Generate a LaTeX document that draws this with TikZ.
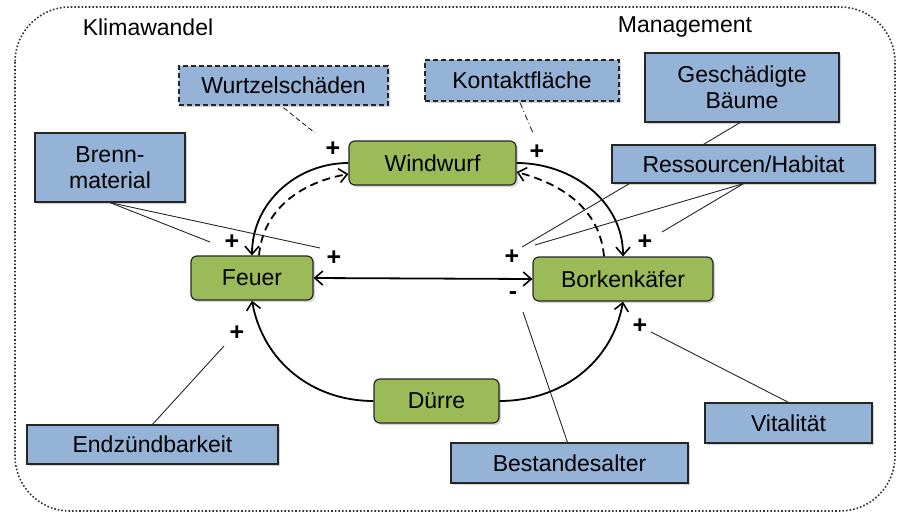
\documentclass[tikz,border=0pt]{standalone}
\usepackage{fontspec}
\setmainfont{Liberation Sans}
\usepackage{tikz}
\usetikzlibrary{arrows.meta,shadows,calc}

\definecolor{boxblue}{RGB}{149,179,215}
\definecolor{boxgreen}{RGB}{155,187,89}

\tikzset{
  faktor/.style={draw=black!85, line width=1.2pt, fill=boxblue, align=center,
    inner sep=0pt, drop shadow={opacity=0.35, shadow xshift=2pt, shadow yshift=-2pt}},
  faktorgestr/.style={faktor, dashed, dash pattern=on 5pt off 3pt, line width=1.4pt},
  prozess/.style={draw=black!85, line width=1.2pt, fill=boxgreen, rounded corners=6pt,
    inner sep=0pt, drop shadow={opacity=0.35, shadow xshift=2pt, shadow yshift=-2pt}},
  spitze/.tip={Straight Barb[length=8pt,width=14pt,line width=1.6pt]},
  wirkung/.style={line width=1.8pt, -spitze},
  wirkungs/.style={wirkung, dash pattern=on 8pt off 5pt},
  einfluss/.style={line width=0.9pt, black!85},
  vz/.style={font=\fontsize{25}{25}\selectfont\bfseries, inner sep=0pt},
}

\begin{document}
\begin{tikzpicture}[x=1pt, y=-1pt, font=\fontsize{23}{27}\selectfont]
\useasboundingbox (0,0) rectangle (901,514);

\draw[line width=1.6pt, dotted, black!80, rounded corners=55pt] (15,7) rectangle (895,511);
\node (klima) at (148,27) {Klimawandel};
\node (mgmt) at (685,27) {Management};

\node[faktorgestr, minimum width=209pt, minimum height=39pt] (wurzel) at (283.5,85.5) {Wurtzelschäden};
\node[faktorgestr, minimum width=194pt, minimum height=41pt] (kontakt) at (522,80.5) {Kontaktfläche};
\node[faktor, minimum width=194pt, minimum height=69pt] (baeume) at (742,87.5) {Geschädigte\\[-1pt]Bäume};
\node[faktor, minimum width=263pt, minimum height=38pt] (habitat) at (743.5,164) {Ressourcen/Habitat};
\node[faktor, minimum width=150pt, minimum height=69pt] (brenn) at (110,167.5) {Brenn-\\[-1pt]material};
\node[faktor, minimum width=251pt, minimum height=39pt] (zuend) at (152.5,444.5) {Endzündbarkeit};
\node[faktor, minimum width=237pt, minimum height=40pt] (alter) at (569.5,463) {Bestandesalter};
\node[faktor, minimum width=167pt, minimum height=40pt] (vital) at (788.5,423) {Vitalität};

\node[prozess, minimum width=167pt, minimum height=44pt] (windwurf) at (432.5,163) {Windwurf};
\node[prozess, minimum width=122pt, minimum height=44pt] (feuer) at (252,278) {Feuer};
\node[prozess, minimum width=180pt, minimum height=44pt] (kaefer) at (623,279) {Borkenkäfer};
\node[prozess, minimum width=125pt, minimum height=44pt] (duerre) at (436.5,401) {Dürre};

% Vorzeichen
\node[vz] (p1) at (333,149) {+};
\node[vz] (p2) at (537,152) {+};
\node[vz] (p3) at (232,242) {+};
\node[vz] (p4) at (334,258) {+};
\node[vz] (p5) at (512,257) {+};
\node[vz] (m1) at (513,296) {-};
\node[vz] (p6) at (645,242) {+};
\node[vz] (p7) at (237,333) {+};
\node[vz] (p8) at (640,326) {+};

\coordinate (e1) at (315,133);
\coordinate (e2) at (533,133);
\coordinate (e3) at (210,242);
\coordinate (e4) at (320,248);
\coordinate (e5) at (522,247);
\coordinate (e6) at (535,245);
\coordinate (e7) at (662,232);
\coordinate (e8) at (224,346);
\coordinate (e9) at (651,332);
\coordinate (e10) at (523,312);

% Rueckkopplungen
\draw[wirkung] (windwurf.west) to[out=180, in=90] (feuer.north);
\draw[wirkungs] ([xshift=7pt]feuer.north) to[out=85, in=190] ([yshift=-11pt]windwurf.west);
\draw[wirkung] (windwurf.east) to[out=0, in=90] (kaefer.north);
\draw[wirkungs] ([xshift=-19pt]kaefer.north) to[out=95, in=-15] ([yshift=-9pt]windwurf.east);
\draw[line width=1.8pt, spitze-spitze] (feuer.east) -- (kaefer.west);
\draw[wirkung] (duerre.west) to[out=180, in=-80] (feuer.south);
\draw[wirkung] (duerre.east) to[out=0, in=-100] (kaefer.south);

% Einfluesse
\draw[einfluss, dash pattern=on 5pt off 3pt] ($(wurzel.south)+(0,2)$) -- (e1);
\draw[einfluss, dash pattern=on 6pt off 3pt on 1pt off 3pt] ($(kontakt.south)+(-2,1)$) -- (e2);
\draw[einfluss] (brenn.south) -- (e3);
\draw[einfluss] (brenn.south) -- (e4);
\draw[einfluss] ($(habitat.south west)+(18,0)$) -- (e5);
\draw[einfluss] (habitat.south) -- (e6);
\draw[einfluss] (habitat.south) -- (e7);
\draw[einfluss] ($(baeume.south)+(-2,0)$) -- ($(habitat.north)+(-40,0)$);
\draw[einfluss] (zuend.north) -- (e8);
\draw[einfluss] (vital.north) -- (e9);
\draw[einfluss] ($(alter.north)+(-2,0)$) -- (e10);
\end{tikzpicture}
\end{document}
